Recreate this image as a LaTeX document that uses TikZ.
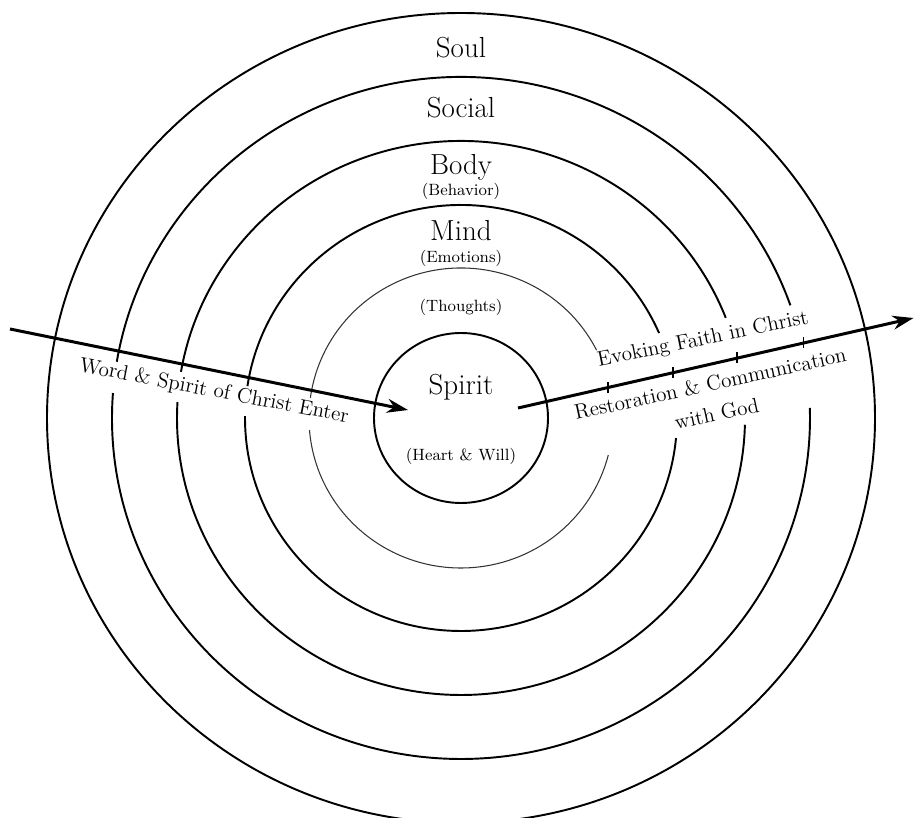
\documentclass[tikz,border=0pt]{standalone}
\usepackage{tikz}
\usetikzlibrary{arrows.meta,calc}

\begin{document}
\begin{tikzpicture}[
		ring/.style={line width=1.1pt},
		thinring/.style={line width=0.6pt, black!80},
		flow/.style={line width=1.7pt, -{Stealth[length=4.2mm,width=2.8mm]}},
		tickmark/.style={line width=1pt},
		big/.style={font=\fontsize{16.5}{19}\selectfont, anchor=base},
		small/.style={font=\fontsize{9.3}{11}\selectfont, anchor=base},
		flowlabel/.style={font=\fontsize{12}{17.5}\selectfont}]
		\useasboundingbox (-9.22,-7.98) rectangle (9.06,8.36);
		% outer and inner rings
		\draw[ring] (0,0) ellipse [x radius=8.28, y radius=8.10];
		\draw[ring] (0,0) ellipse [x radius=1.74, y radius=1.70];
		% broken rings: x radius / y radius / upper arc / lower arc
		\foreach \rx/\ry/\a/\b/\c/\d in {6.98/6.82/19.3/170.5/175.8/361.7,
				5.68/5.54/21.2/170.4/176.7/358.6, 4.32/4.26/23.5/171.4/179.5/354.6}
			{\draw[ring] (\a:\rx cm and \ry cm)
				arc[start angle=\a, end angle=\b, x radius=\rx, y radius=\ry];
				\draw[ring] (\c:\rx cm and \ry cm)
				arc[start angle=\c, end angle=\d, x radius=\rx, y radius=\ry];}
		\draw[thinring] (26.9:3.04cm and 3.0cm)
		arc[start angle=26.9, end angle=172.3, x radius=3.04, y radius=3.0];
		\draw[thinring] (184.6:3.04cm and 3.0cm)
		arc[start angle=184.6, end angle=345.7, x radius=3.04, y radius=3.0];
		% ring labels
		\node[big] (soul) at (0,7.2) {Soul};
		\node[big] (social) at (0,6.0) {Social};
		\node[big] (body) at (0,4.86) {Body};
		\node[small] (behavior) at (0,4.44) {(Behavior)};
		\node[big] (mind) at (0,3.54) {Mind};
		\node[small] (emotions) at (0,3.10) {(Emotions)};
		\node[small] (thoughts) at (0,2.12) {(Thoughts)};
		\node[big] (spirit) at (0,0.46) {Spirit};
		\node[small] (heart) at (0,-0.84) {(Heart \& Will)};
		% arrows in and out
		\coordinate (in-start) at (-9.02,1.78);
		\coordinate (in-end) at (-1.06,0.16);
		\coordinate (out-start) at (1.14,0.20);
		\coordinate (out-end) at (9.05,2.0);
		\draw[flow] (in-start) -- (in-end);
		\draw[flow] (out-start) -- (out-end);
		\foreach \t in {0.227,0.391,0.553,0.722}
			{\draw[tickmark] ($(out-start)!\t!(out-end)$) ++(0,-0.1) -- ++(0,0.22);}
		% arrow labels
		\node[flowlabel, anchor=base, rotate=-10.8] (enter) at (-4.96,0.42)
		{Word \& Spirit of Christ Enter};
		\node[flowlabel, anchor=base, rotate=11.5] (faith) at (4.86,1.46)
		{Evoking Faith in Christ};
		\node[flowlabel, align=center, rotate=12.2] (restore) at (5.05,0.39)
		{Restoration \& Communication\\with God};
	\end{tikzpicture}
\end{document}
